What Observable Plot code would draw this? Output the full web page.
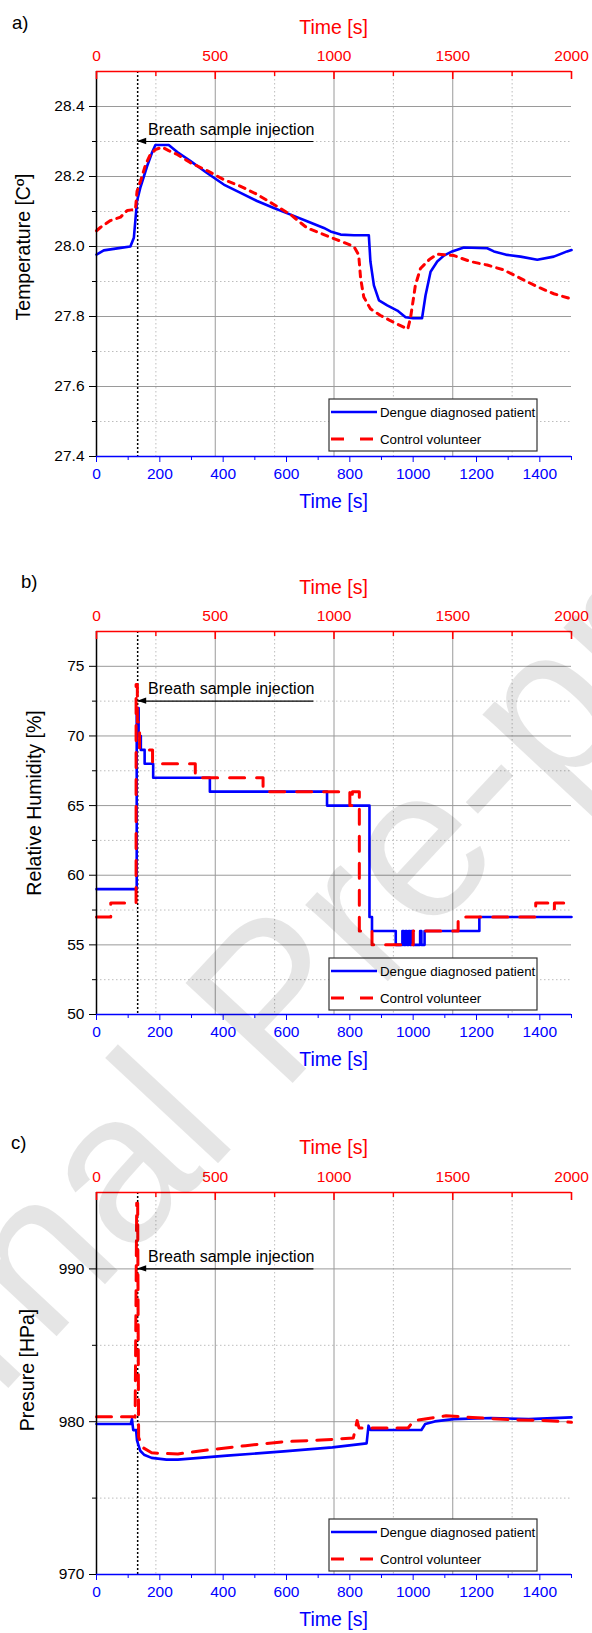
<!DOCTYPE html>
<html><head><meta charset="utf-8">
<script src="https://cdn.jsdelivr.net/npm/d3@7"></script>
<script src="https://cdn.jsdelivr.net/npm/@observablehq/plot@0.6"></script>
<style>
body{margin:0;background:#fff;}
#wrap{position:relative;width:592px;height:1633px;overflow:hidden;font-family:Arial,"Liberation Sans",sans-serif;background:#fff;}
#wrap svg{display:block}
#wm{position:absolute;left:0;top:0;pointer-events:none}
</style></head><body><div id="wrap"></div>
<script>
// ---------- axis tick values ----------
const topAxisLabels = [0, 500, 1000, 1500, 2000];
const topAxisMinor = [250, 750, 1250, 1750];
const bottomAxisTicks = [0, 200, 400, 600, 800, 1000, 1200, 1400];
const bottomAxisMinor = [100, 300, 500, 700, 900, 1100, 1300, 1500];
const injectionTime = 130;
const seriesNames = ["Dengue diagnosed patient", "Control volunteer"];

// ---------- a) temperature ----------
const tempTimePatient = [0, 23, 76, 107, 118, 128, 139, 160, 176, 186, 200, 228, 255, 297, 349, 402, 455, 507, 560, 613, 665, 718, 739, 771, 813, 860, 865, 876, 892, 918, 950, 976, 1000, 1028, 1039, 1055, 1076, 1097, 1123, 1160, 1234, 1255, 1297, 1339, 1392, 1444, 1486, 1500];
const tempPatient = [27.977, 27.989, 27.996, 28.0, 28.025, 28.13, 28.17, 28.23, 28.27, 28.29, 28.29, 28.29, 28.27, 28.244, 28.21, 28.177, 28.153, 28.13, 28.11, 28.091, 28.072, 28.053, 28.043, 28.034, 28.032, 28.032, 27.957, 27.889, 27.846, 27.832, 27.817, 27.798, 27.795, 27.795, 27.86, 27.928, 27.957, 27.974, 27.986, 27.997, 27.995, 27.986, 27.976, 27.971, 27.962, 27.971, 27.986, 27.99];
const tempTimeControl = [0, 13, 44, 76, 97, 123, 128, 139, 155, 170, 186, 207, 228, 255, 297, 349, 402, 455, 507, 560, 613, 665, 718, 760, 813, 828, 834, 844, 865, 897, 928, 960, 983, 992, 1007, 1023, 1050, 1076, 1129, 1181, 1234, 1286, 1339, 1392, 1444, 1500];
const tempControl = [28.045, 28.055, 28.074, 28.084, 28.103, 28.106, 28.158, 28.187, 28.234, 28.263, 28.277, 28.284, 28.274, 28.263, 28.239, 28.217, 28.191, 28.172, 28.149, 28.12, 28.091, 28.053, 28.034, 28.019, 28.0, 27.976, 27.909, 27.856, 27.822, 27.803, 27.788, 27.774, 27.764, 27.798, 27.889, 27.937, 27.962, 27.978, 27.974, 27.957, 27.947, 27.933, 27.909, 27.885, 27.865, 27.85];

// ---------- b) relative humidity (stepped) ----------
const humTimePatient = [0, 127, 133, 140, 152, 179, 358, 728, 862, 870, 945, 966, 970, 976, 980, 986, 990, 995, 1000, 1022, 1026, 1036, 1209, 1500];
const humPatient = [59, 72, 70, 69, 68, 67, 66, 65, 57, 56, 55, 56, 55, 56, 55, 56, 55, 56, 55, 56, 55, 56, 57, 57];
const humTimeControl = [0, 45, 125, 129, 136, 177, 312, 526, 800, 808, 830, 870, 1000, 1142, 1387, 1440, 1446, 1500];
const humControl = [57, 58, 73.7, 71, 69, 68, 67, 66, 65, 66, 56, 55, 56, 57, 58, 57.6, 58, 58];

// ---------- c) pressure ----------
const presTimePatient = [0, 108, 112, 116, 125, 128, 138, 150, 174, 221, 257, 412, 591, 745, 853, 859, 865, 1026, 1038, 1068, 1128, 1246, 1365, 1500];
const presPatient = [979.85, 979.85, 980.17, 979.45, 979.45, 978.76, 978.1, 977.84, 977.63, 977.52, 977.52, 977.78, 978.06, 978.32, 978.58, 979.74, 979.46, 979.46, 979.85, 980.02, 980.17, 980.24, 980.17, 980.28];
const presTimeControl = [0, 114, 122, 127, 130, 133, 145, 174, 198, 257, 352, 471, 591, 710, 811, 823, 829, 984, 1002, 1068, 1104, 1187, 1306, 1425, 1500];
const presControl = [980.33, 980.33, 980.3, 994.3, 994.3, 978.98, 978.32, 977.97, 977.93, 977.89, 978.15, 978.43, 978.69, 978.8, 978.93, 980.07, 979.59, 979.59, 980.07, 980.28, 980.39, 980.28, 980.13, 980.07, 979.96];

// top (red) axis 0-2000 shares the frame with bottom (blue) axis 0-1500
const topToBottom = d3.scaleLinear([0, 2000], [0, 1500]);
const topMajorPos = topAxisLabels.map(topToBottom);
const topMinorPos = topAxisMinor.map(topToBottom);

const zip = (ts, vs) => ts.map((t, i) => ({t, v: vs[i]}));

const FONT = 'Arial, "Liberation Sans", sans-serif';
const W = 592, ML = 96, MR = 21;
const wrap = document.getElementById("wrap");

function panel(o) {
  const plotH = o.height - o.mt - o.mb;
  const curve = o.step ? "step-after" : "linear";
  const yMaj = o.yMajor.filter(v => v > o.yDomain[0]);
  const svg = Plot.plot({
    width: W, height: o.height,
    marginLeft: ML, marginRight: MR, marginTop: o.mt, marginBottom: o.mb,
    style: {fontFamily: FONT, fontSize: "15.5px", background: "white", overflow: "visible"},
    x: {domain: [0, 1500]},
    y: {domain: o.yDomain},
    marks: [
      Plot.ruleY(o.yMinor, {stroke: "#bdbdbd", strokeDasharray: "1.5,2.5"}),
      Plot.ruleX(topMinorPos, {stroke: "#bdbdbd", strokeDasharray: "1.5,2.5"}),
      Plot.ruleY(yMaj.filter(v => v < o.yDomain[1]), {stroke: "#9a9a9a"}),
      Plot.ruleX(topMajorPos.filter(v => v > 0 && v < 1500), {stroke: "#9a9a9a"}),
      Plot.ruleX([injectionTime], {stroke: "black", strokeDasharray: "2,2", strokeWidth: 1.5}),
      Plot.line(zip(o.tp, o.vp), {x: "t", y: "v", stroke: "#0000ff", strokeWidth: 2.6, curve}),
      Plot.line(zip(o.tc, o.vc), {x: "t", y: "v", stroke: "#ff0000", strokeWidth: 3, strokeDasharray: o.dash, curve}),
      Plot.link([{x1: injectionTime, x2: 685, y: o.arrowY}], {x1: "x1", x2: "x2", y1: "y", y2: "y", stroke: "black", strokeWidth: 1.2}),
      Plot.text([{x: 163, y: o.arrowY, label: "Breath sample injection"}], {x: "x", y: "y", text: "label", textAnchor: "start", lineAnchor: "bottom", dy: -7, fontSize: 16, fill: "black"}),
      Plot.ruleX([0], {stroke: "black", strokeWidth: 1.5}),
      Plot.ruleY([o.yDomain[0]], {stroke: "#0000ff", strokeWidth: 1.6}),
      Plot.ruleY([o.yDomain[1]], {stroke: "#ff0000", strokeWidth: 1.6}),
      Plot.axisY({ticks: o.yMajor, tickSize: 7, tickPadding: 5, tickFormat: o.yFmt, color: "black", label: null}),
      Plot.axisY({ticks: o.yMinor, tickSize: 4, tickFormat: () => "", color: "black", label: null}),
      Plot.axisX({anchor: "bottom", ticks: bottomAxisTicks, tickSize: 6, tickPadding: 5, tickFormat: d => String(d), color: "#0000ff", label: null}),
      Plot.axisX({anchor: "bottom", ticks: bottomAxisMinor, tickSize: 4, tickFormat: () => "", color: "#0000ff", label: null}),
      Plot.axisX({anchor: "top", ticks: topMajorPos, tickSize: 0, tickPadding: 11, tickFormat: d => String(topAxisLabels[topMajorPos.indexOf(d)]), color: "#ff0000", label: null}),
      Plot.ruleX(topMajorPos, {stroke: "#ff0000", strokeWidth: 1.6, insetBottom: plotH - 8}),
      Plot.ruleX(topMinorPos, {stroke: "#ff0000", strokeWidth: 1.4, insetBottom: plotH - 5})
    ]
  });
  const sxo = svg.scale("x"), syo = svg.scale("y");
  const sx = sxo.apply ? (v => sxo.apply(v)) : d3.scaleLinear(sxo.domain, sxo.range);
  const sy = syo.apply ? (v => syo.apply(v)) : d3.scaleLinear(syo.domain, syo.range);
  const g = d3.select(svg).append("g").attr("font-family", FONT).attr("text-anchor", "start");
  // arrow head
  const ax = sx(injectionTime), ay = sy(o.arrowY);
  g.append("path").attr("d", `M${ax},${ay}L${ax + 9},${ay - 3.2}L${ax + 9},${ay + 3.2}Z`).attr("fill", "black");
  // panel letter
  g.append("text").attr("x", o.letterX).attr("y", o.letterY).attr("text-anchor", "start").attr("font-size", 18.5).attr("fill", "black").text(o.letter);
  const cx = (ML + (W - MR)) / 2;
  g.append("text").attr("x", cx).attr("y", 34).attr("text-anchor", "middle").attr("font-size", 19.5).attr("fill", "#ff0000").text("Time [s]");
  g.append("text").attr("x", cx).attr("y", o.mt + plotH + 52).attr("text-anchor", "middle").attr("font-size", 19.5).attr("fill", "#0000ff").text("Time [s]");
  g.append("text").attr("transform", `translate(${o.yLabelX},${o.yLabelY}) rotate(-90)`).attr("text-anchor", "middle").attr("font-size", 19.5).attr("fill", "black").text(o.yLabel);
  // legend
  const lx = 329, ly = o.legendTop;
  const lg = g.append("g");
  lg.append("rect").attr("x", lx).attr("y", ly).attr("width", 208).attr("height", 52).attr("fill", "white").attr("stroke", "#333").attr("stroke-width", 1.2);
  lg.append("line").attr("x1", lx + 2).attr("x2", lx + 48).attr("y1", ly + 13).attr("y2", ly + 13).attr("stroke", "#0000ff").attr("stroke-width", 2.6);
  lg.append("line").attr("x1", lx + 2).attr("x2", lx + 48).attr("y1", ly + 40).attr("y2", ly + 40).attr("stroke", "#ff0000").attr("stroke-width", 3).attr("stroke-dasharray", "13,16");
  lg.append("text").attr("x", lx + 51).attr("y", ly + 18).attr("text-anchor", "start").attr("font-size", 13.3).attr("fill", "black").text(seriesNames[0]);
  lg.append("text").attr("x", lx + 51).attr("y", ly + 45).attr("text-anchor", "start").attr("font-size", 13.3).attr("fill", "black").text(seriesNames[1]);
  wrap.appendChild(svg);
}

panel({
  height: 560, mt: 71, mb: 104,
  yDomain: [27.4, 28.5], yMajor: [27.4, 27.6, 27.8, 28.0, 28.2, 28.4], yMinor: [27.5, 27.7, 27.9, 28.1, 28.3],
  yFmt: d3.format(".1f"),
  tp: tempTimePatient, vp: tempPatient, tc: tempTimeControl, vc: tempControl,
  step: false, dash: "6,6", arrowY: 28.3,
  yLabel: "Temperature [C\u00ba]", yLabelX: 29.5, yLabelY: 247,
  letter: "a)", letterX: 12, letterY: 29, legendTop: 399
});
panel({
  height: 560, mt: 71, mb: 106,
  yDomain: [50, 77.5], yMajor: [50, 55, 60, 65, 70, 75], yMinor: [52.5, 57.5, 62.5, 67.5, 72.5],
  yFmt: d => String(d),
  tp: humTimePatient, vp: humPatient, tc: humTimeControl, vc: humControl,
  step: true, dash: "15,12", arrowY: 72.5,
  yLabel: "Relative Humidity [%]", yLabelX: 41, yLabelY: 243,
  letter: "b)", letterX: 21, letterY: 28, legendTop: 398
});
panel({
  height: 513, mt: 72, mb: 59,
  yDomain: [970, 995], yMajor: [970, 980, 990], yMinor: [975, 985],
  yFmt: d => String(d),
  tp: presTimePatient, vp: presPatient, tc: presTimeControl, vc: presControl,
  step: false, dash: "15,10", arrowY: 990,
  yLabel: "Presure [HPa]", yLabelX: 34, yLabelY: 250,
  letter: "c)", letterX: 11, letterY: 29, legendTop: 399
});

// watermark
const wm = d3.select(wrap).append("svg").attr("id", "wm").attr("width", 592).attr("height", 1633);
wm.append("text").attr("x", -236).attr("y", 1650).attr("transform", "rotate(-47 -236 1650)")
  .attr("font-family", FONT).attr("font-size", 213).attr("fill", "#000").attr("fill-opacity", 0.1).attr("text-anchor", "start").text("Journal Pre-proof");
</script>
</body></html>
